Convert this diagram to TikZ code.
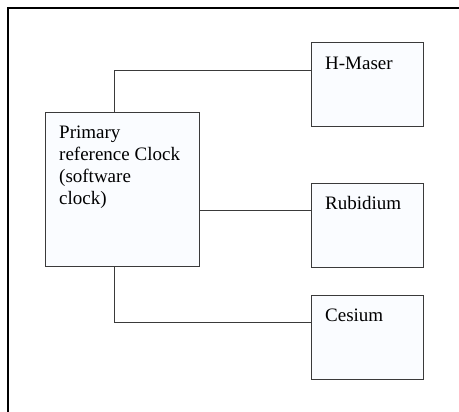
\documentclass[tikz,border=0pt]{standalone}
\usepackage{fontspec}
\setmainfont{Liberation Serif}
\definecolor{boxfill}{HTML}{FAFCFF}
\definecolor{boxline}{HTML}{3A3A3A}
\tikzset{
  box/.style={draw=boxline, fill=boxfill, line width=1pt, inner sep=0pt, anchor=north west},
  lbl/.style={inner sep=0pt, anchor=north west, align=left, font=\fontsize{19}{21.7}\selectfont},
  conn/.style={draw=boxline, line width=1pt},
}
\begin{document}
\begin{tikzpicture}[x=1pt,y=-1pt]
\useasboundingbox (0,0) rectangle (459,412);
\fill[white] (0,0) rectangle (459,412);
\draw[line width=1.6pt, line cap=rect] (459,8) -- (8,8) -- (8,412);
% boxes
\node[box, minimum width=112.5pt, minimum height=84pt] (hm) at (310.5,42.5) {};
\node[box, minimum width=154.5pt, minimum height=154pt] (prim) at (44.5,112.5) {};
\node[box, minimum width=112.5pt, minimum height=84pt] (rub) at (310.5,182.7) {};
\node[box, minimum width=112.5pt, minimum height=84.3pt] (ces) at (310.5,294.7) {};
% labels
\node[lbl] (thm) at (325,56.8) {H-Maser};
\node[lbl] (tprim) at (59,126.2) {Primary\\reference Clock\\(software\\clock)};
\node[lbl] (trub) at (325,196.6) {Rubidium};
\node[lbl] (tces) at (325,308.5) {Cesium};
% connectors
\coordinate (c1) at (114.5,70.7);
\coordinate (c2) at (0,211);
\coordinate (c3) at (114.5,322.7);
\draw[conn] (prim.north -| c1) -- (c1) -- (hm.west |- c1);
\draw[conn] (prim.east |- c2) -- (rub.west |- c2);
\draw[conn] (prim.south -| c3) -- (c3) -- (ces.west |- c3);
\end{tikzpicture}
\end{document}
